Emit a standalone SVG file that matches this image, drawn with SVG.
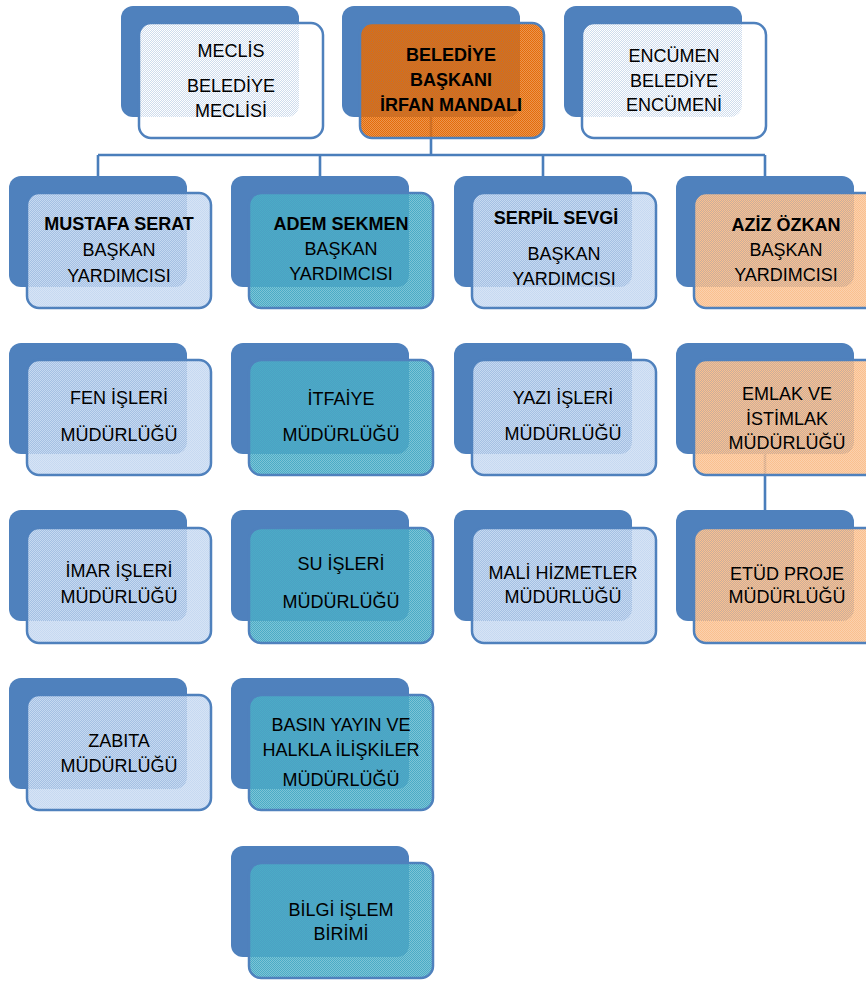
<svg xmlns="http://www.w3.org/2000/svg" width="866" height="981" viewBox="0 0 866 981">
<style>
.bk{fill:#4f81bd}
.fr{stroke:#4f81bd;stroke-width:2.5}
.w{fill:url(#pW)}.lb{fill:url(#pLB)}.tl{fill:url(#pT)}.lo{fill:url(#pLO)}.or{fill:url(#pO)}
.conn{stroke:#4a7ebb;stroke-width:2.6;fill:none}
text{font-family:"Liberation Sans",Arial,sans-serif;font-size:18px;fill:#000;text-anchor:middle}
.b{font-weight:bold}
</style>
<defs>
<pattern id="pW" width="2" height="2" patternUnits="userSpaceOnUse"><rect width="2" height="2" fill="#ffffff" fill-opacity="0.72"/><rect width="1" height="1" fill="#ffffff"/><rect x="1" y="1" width="1" height="1" fill="#ffffff"/></pattern>
<pattern id="pLB" width="2" height="2" patternUnits="userSpaceOnUse"><rect width="2" height="2" fill="#c6d9f1" fill-opacity="0.72"/><rect width="1" height="1" fill="#c6d9f1"/><rect x="1" y="1" width="1" height="1" fill="#c6d9f1"/></pattern>
<pattern id="pT" width="2" height="2" patternUnits="userSpaceOnUse"><rect width="2" height="2" fill="#4bacc6" fill-opacity="0.72"/><rect width="1" height="1" fill="#4bacc6"/><rect x="1" y="1" width="1" height="1" fill="#4bacc6"/></pattern>
<pattern id="pLO" width="2" height="2" patternUnits="userSpaceOnUse"><rect width="2" height="2" fill="#fac08f" fill-opacity="0.72"/><rect width="1" height="1" fill="#fac08f"/><rect x="1" y="1" width="1" height="1" fill="#fac08f"/></pattern>
<pattern id="pO" width="2" height="2" patternUnits="userSpaceOnUse"><rect width="2" height="2" fill="#e46c0a" fill-opacity="0.72"/><rect width="1" height="1" fill="#e46c0a"/><rect x="1" y="1" width="1" height="1" fill="#e46c0a"/></pattern>
</defs>
<rect width="866" height="981" fill="#ffffff"/>
<g id="connectors">
<path class="conn" d="M431 117 V155 M98 155 H765 M98 155 V176 M320 155 V176 M543 155 V176 M765 155 V176 M765 454 V510"/>
</g>
<g id="meclis"><rect class="bk" x="121" y="6" width="178" height="111" rx="12"/><rect class="fr w" x="139" y="23" width="184" height="115" rx="12"/>
<text x="231" y="57">MECLİS</text><text x="231" y="92">BELEDİYE</text><text x="231" y="117">MECLİSİ</text></g>
<g id="baskan"><rect class="bk" x="342" y="6" width="178" height="111" rx="12"/><rect class="fr or" x="360" y="23" width="184" height="115" rx="12"/>
<text class="b" x="451" y="61">BELEDİYE</text><text class="b" x="451" y="86">BAŞKANI</text><text class="b" x="451" y="111">İRFAN MANDALI</text></g>
<g id="encumen"><rect class="bk" x="564" y="6" width="178" height="111" rx="12"/><rect class="fr w" x="582" y="23" width="184" height="115" rx="12"/>
<text x="674" y="62">ENCÜMEN</text><text x="674" y="87">BELEDİYE</text><text x="674" y="111">ENCÜMENİ</text></g>

<g id="mustafa"><rect class="bk" x="9" y="176" width="178" height="111" rx="12"/><rect class="fr lb" x="27" y="193" width="184" height="115" rx="12"/>
<text class="b" x="119" y="230">MUSTAFA SERAT</text><text x="119" y="256">BAŞKAN</text><text x="119" y="282">YARDIMCISI</text></g>
<g id="adem"><rect class="bk" x="231" y="176" width="178" height="111" rx="12"/><rect class="fr tl" x="249" y="193" width="184" height="115" rx="12"/>
<text class="b" x="341" y="230">ADEM SEKMEN</text><text x="341" y="255">BAŞKAN</text><text x="341" y="280">YARDIMCISI</text></g>
<g id="serpil"><rect class="bk" x="454" y="176" width="178" height="111" rx="12"/><rect class="fr lb" x="472" y="193" width="184" height="115" rx="12"/>
<text class="b" x="556" y="224">SERPİL SEVGİ</text><text x="564" y="260">BAŞKAN</text><text x="564" y="285">YARDIMCISI</text></g>
<g id="aziz"><rect class="bk" x="676" y="176" width="178" height="111" rx="12"/><rect class="fr lo" x="694" y="193" width="184" height="115" rx="12"/>
<text class="b" x="786" y="231">AZİZ ÖZKAN</text><text x="786" y="256">BAŞKAN</text><text x="786" y="281">YARDIMCISI</text></g>

<g id="fen"><rect class="bk" x="9" y="343" width="178" height="111" rx="12"/><rect class="fr lb" x="27" y="360" width="184" height="115" rx="12"/>
<text x="119" y="404">FEN İŞLERİ</text><text x="119" y="441">MÜDÜRLÜĞÜ</text></g>
<g id="itfaiye"><rect class="bk" x="231" y="343" width="178" height="111" rx="12"/><rect class="fr tl" x="249" y="360" width="184" height="115" rx="12"/>
<text x="341" y="405">İTFAİYE</text><text x="341" y="441">MÜDÜRLÜĞÜ</text></g>
<g id="yazi"><rect class="bk" x="454" y="343" width="178" height="111" rx="12"/><rect class="fr lb" x="472" y="360" width="184" height="115" rx="12"/>
<text x="563" y="404">YAZI İŞLERİ</text><text x="563" y="440">MÜDÜRLÜĞÜ</text></g>
<g id="emlak"><rect class="bk" x="676" y="343" width="178" height="111" rx="12"/><rect class="fr lo" x="694" y="360" width="184" height="115" rx="12"/>
<text x="787" y="400">EMLAK VE</text><text x="787" y="425">İSTİMLAK</text><text x="787" y="449">MÜDÜRLÜĞÜ</text></g>

<g id="imar"><rect class="bk" x="9" y="510" width="178" height="111" rx="12"/><rect class="fr lb" x="27" y="528" width="184" height="115" rx="12"/>
<text x="119" y="577">İMAR İŞLERİ</text><text x="119" y="603">MÜDÜRLÜĞÜ</text></g>
<g id="su"><rect class="bk" x="231" y="510" width="178" height="111" rx="12"/><rect class="fr tl" x="249" y="528" width="184" height="115" rx="12"/>
<text x="341" y="570">SU İŞLERİ</text><text x="341" y="608">MÜDÜRLÜĞÜ</text></g>
<g id="mali"><rect class="bk" x="454" y="510" width="178" height="111" rx="12"/><rect class="fr lb" x="472" y="528" width="184" height="115" rx="12"/>
<text x="563" y="579">MALİ HİZMETLER</text><text x="563" y="603">MÜDÜRLÜĞÜ</text></g>
<g id="etud"><rect class="bk" x="676" y="510" width="178" height="111" rx="12"/><rect class="fr lo" x="694" y="528" width="184" height="115" rx="12"/>
<text x="787" y="580">ETÜD PROJE</text><text x="787" y="603">MÜDÜRLÜĞÜ</text></g>

<g id="zabita"><rect class="bk" x="9" y="678" width="178" height="111" rx="12"/><rect class="fr lb" x="27" y="695" width="184" height="115" rx="12"/>
<text x="119" y="747">ZABITA</text><text x="119" y="772">MÜDÜRLÜĞÜ</text></g>
<g id="basin"><rect class="bk" x="231" y="678" width="178" height="111" rx="12"/><rect class="fr tl" x="249" y="695" width="184" height="115" rx="12"/>
<text x="341" y="731">BASIN YAYIN VE</text><text x="341" y="756">HALKLA İLİŞKİLER</text><text x="341" y="786">MÜDÜRLÜĞÜ</text></g>

<g id="bilgi"><rect class="bk" x="231" y="846" width="178" height="111" rx="12"/><rect class="fr tl" x="249" y="863" width="184" height="115" rx="12"/>
<text x="341" y="916">BİLGİ İŞLEM</text><text x="341" y="940">BİRİMİ</text></g>
</svg>
